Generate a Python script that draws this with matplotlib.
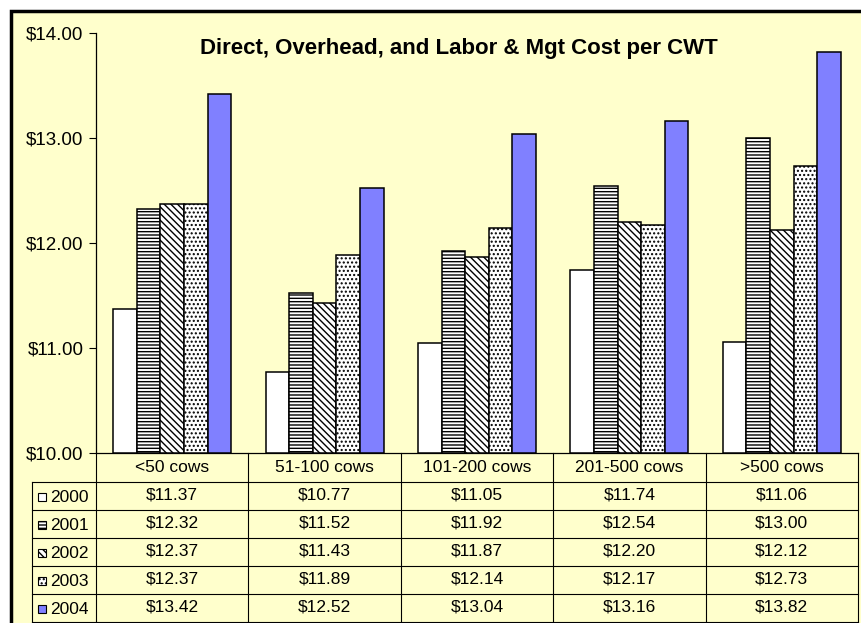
import matplotlib
matplotlib.use("Agg")
from matplotlib import pyplot as plt
from matplotlib.patches import Rectangle
from matplotlib.lines import Line2D
from matplotlib.transforms import blended_transform_factory
import numpy as np

plt.rcParams['font.family'] = ['Liberation Sans', 'DejaVu Sans']
plt.rcParams['hatch.linewidth'] = 1.0

categories = ["<50 cows", "51-100 cows", "101-200 cows", "201-500 cows", ">500 cows"]
years = ["2000", "2001", "2002", "2003", "2004"]
cost_2000 = [11.37, 10.77, 11.05, 11.74, 11.06]
cost_2001 = [12.32, 11.52, 11.92, 12.54, 13.00]
cost_2002 = [12.37, 11.43, 11.87, 12.20, 12.12]
cost_2003 = [12.37, 11.89, 12.14, 12.17, 12.73]
cost_2004 = [13.42, 12.52, 13.04, 13.16, 13.82]
series = [cost_2000, cost_2001, cost_2002, cost_2003, cost_2004]

yticks = [10, 11, 12, 13, 14]

BG = '#FFFFCC'
styles = [
    dict(color='white', hatch=None),
    dict(color='white', hatch='-----'),
    dict(color='white', hatch='\\\\\\\\\\'),
    dict(color='white', hatch='....'),
    dict(color='#8080FF', hatch=None),
]

W, H = 862, 623
fig = plt.figure(figsize=(W / 100, H / 100), dpi=100)
fig.patch.set_facecolor('white')

def fx(p):
    return p / W

def fy(p):
    return 1 - p / H

# outer chart frame
fig.patches.append(Rectangle((fx(11), fy(640)), fx(880) - fx(11), fy(11) - fy(640),
                             transform=fig.transFigure, facecolor=BG, edgecolor='black',
                             linewidth=2.5, zorder=-5))

ax = fig.add_axes([fx(96), fy(453), fx(858) - fx(96), fy(33) - fy(453)])
ax.set_facecolor('none')
ax.set_zorder(2)

x = np.arange(len(categories))
bw = 0.155
for i, vals in enumerate(series):
    v = np.array(vals)
    ax.bar(x + (i - 2) * bw, v - yticks[0], bw, bottom=yticks[0],
           color=styles[i]['color'], hatch=styles[i]['hatch'],
           edgecolor='black', linewidth=1.1, zorder=3)

ax.set_xlim(-0.5, len(categories) - 0.5)
ax.set_ylim(yticks[0], yticks[-1])
ax.set_yticks(yticks)
ax.set_yticklabels(['$%.2f' % t for t in yticks], fontsize=13.5)
ax.tick_params(axis='y', length=5, width=0.8, pad=4)
ax.set_xticks([])
for s in ['top', 'right']:
    ax.spines[s].set_visible(False)
ax.spines['left'].set_linewidth(0.9)
ax.spines['bottom'].set_linewidth(0.9)

ax.text(0.476, 0.963, "Direct, Overhead, and Labor & Mgt Cost per CWT",
        transform=ax.transAxes, ha='center', va='center',
        fontsize=16, fontweight='bold')

# data table under the chart
tr = blended_transform_factory(ax.transData, fig.transFigure)
row_lines = [482, 510, 538, 566, 594, 622]
col_edges = np.arange(len(categories) + 1) - 0.5

def hline(x0, x1, y):
    fig.lines.append(Line2D([fx(x0), fx(x1)], [fy(y), fy(y)], transform=fig.transFigure,
                            color='black', linewidth=0.8))

def vline(xf, y0, y1):
    fig.lines.append(Line2D([xf, xf], [fy(y0), fy(y1)], transform=fig.transFigure,
                            color='black', linewidth=0.8))

for y in row_lines:
    hline(32, 858, y)
for c in col_edges:
    xf = fig.transFigure.inverted().transform(ax.transData.transform((c, 10)))[0]
    vline(xf, 453, 623)
vline(fx(32), 482, 623)

for j, cat in enumerate(categories):
    fig.text(x[j], fy(467.5), cat, transform=tr, ha='center', va='center', fontsize=12.5)

for i, vals in enumerate(series):
    yc = (row_lines[i] + row_lines[i + 1]) / 2
    for j, v in enumerate(vals):
        fig.text(x[j], fy(yc - 1), '$%.2f' % v, transform=tr, ha='center', va='center',
                 fontsize=12.5)
    fig.patches.append(Rectangle((fx(38), fy(yc + 4.5)), fx(46) - fx(38), fy(yc - 3.5) - fy(yc + 4.5),
                                 transform=fig.transFigure, facecolor=styles[i]['color'],
                                 hatch=styles[i]['hatch'], edgecolor='black', linewidth=0.8))
    fig.text(fx(50), fy(yc + 1), years[i], ha='left', va='center', fontsize=12.5)

fig.savefig('out.png', dpi=100)
